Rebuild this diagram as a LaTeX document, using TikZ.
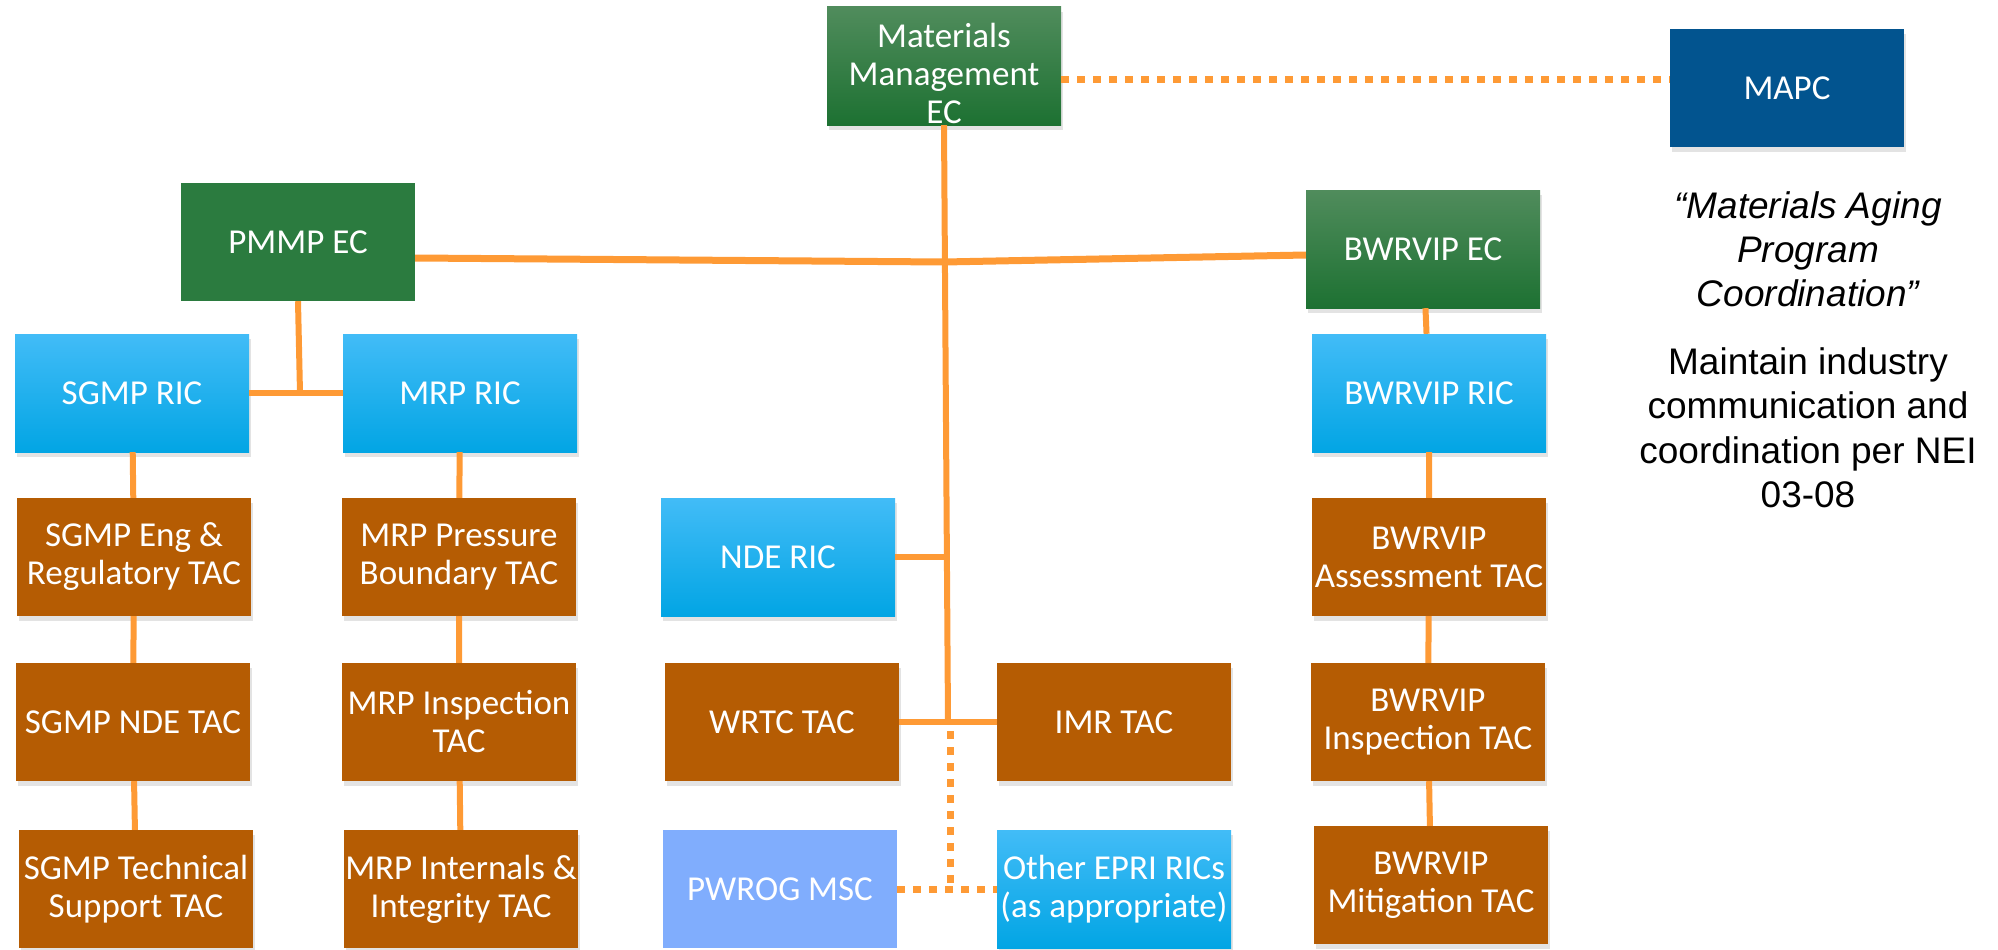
\documentclass[tikz,border=0pt]{standalone}
\usepackage{fontspec}
\setmainfont{Carlito}
\newfontfamily\notefont{Liberation Sans}
\usetikzlibrary{shadows}
\definecolor{ec_top}{RGB}{80,140,92}
\definecolor{ec_bottom}{RGB}{29,113,50}
\definecolor{ec_flat}{RGB}{43,123,63}
\definecolor{ric_top}{RGB}{66,188,247}
\definecolor{ric_mid}{RGB}{4,182,248}
\definecolor{ric_bottom}{RGB}{2,165,228}
\definecolor{tac_fill}{RGB}{181,92,3}
\definecolor{mapc_fill}{RGB}{2,84,143}
\definecolor{msc_fill}{RGB}{128,173,253}
\definecolor{link_orange}{RGB}{254,154,53}
\tikzset{
        boxnode/.style={rectangle, align=center, inner sep=0pt, text=white, minimum width=234pt, minimum height=118pt, font=\fontsize{35}{38}\selectfont},
        % Soft shadow under most boxes
        node_shadow/.style={drop shadow={shadow xshift=2pt, shadow yshift=-5pt, opacity=0.22}},
        % Executive committees
        node_ec/.style={boxnode, node_shadow, top color=ec_top, bottom color=ec_bottom},
        node_ec_flat/.style={boxnode, fill=ec_flat},
        % Research integration committees
        node_ric/.style={boxnode, node_shadow, top color=ric_top, middle color=ric_mid, bottom color=ric_bottom},
        % Technical advisory committees
        node_tac/.style={boxnode, node_shadow, fill=tac_fill},
        % Outside groups
        node_mapc/.style={boxnode, node_shadow, fill=mapc_fill},
        node_msc/.style={boxnode, fill=msc_fill},
        % Connectors
        link_solid/.style={draw=link_orange, line width=6pt},
        link_dotted/.style={draw=link_orange, line width=7pt, dash pattern=on 8pt off 8pt},
        % Notes beside MAPC
        note_quote/.style={align=center, font=\notefont\itshape\fontsize{37}{44}\selectfont},
        note_plain/.style={align=center, font=\notefont\fontsize{37}{44.5}\selectfont}
}

\begin{document}
\begin{tikzpicture}[x=1pt, y=-1pt]
    \useasboundingbox (0,0) rectangle (1998,950);

    % top level
    \node[node_ec] (mm_ec) at (944,66) {\rule{0pt}{40pt}Materials\\Management\\EC};
    \node[node_mapc] (mapc) at (1787,88) {MAPC};
    \node[note_quote] (mapc_quote) at (1808,249) {“Materials Aging\\Program\\Coordination”};
    \node[note_plain] (mapc_role) at (1808,428) {Maintain industry\\communication and\\coordination per NEI\\03-08};

    % PMMP side
    \node[node_ec_flat] (pmmp_ec) at (298,242) {PMMP EC};
    \node[node_ric] (sgmp_ric) at (132,393) {SGMP RIC};
    \node[node_ric] (mrp_ric) at (460,393) {MRP RIC};
    \node[node_tac] (sgmp_eng) at (134,557) {SGMP Eng \&\\Regulatory TAC};
    \node[node_tac] (sgmp_nde) at (133,722) {SGMP NDE TAC};
    \node[node_tac] (sgmp_tech) at (136,889) {SGMP Technical\\Support TAC};
    \node[node_tac] (mrp_pb) at (459,557) {MRP Pressure\\Boundary TAC};
    \node[node_tac] (mrp_insp) at (459,722) {MRP Inspection\\TAC};
    \node[node_tac] (mrp_int) at (461,889) {MRP Internals \&\\Integrity TAC};

    % middle
    \node[node_ric] (nde_ric) at (778,557) {NDE RIC};
    \node[node_tac] (wrtc_tac) at (782,722) {WRTC TAC};
    \node[node_tac] (imr_tac) at (1114,722) {IMR TAC};
    \node[node_msc] (pwrog_msc) at (780,889) {PWROG MSC};
    \node[node_ric] (other_ric) at (1114,889) {Other EPRI RICs\\(as appropriate)};

    % BWRVIP side
    \node[node_ec] (bwrvip_ec) at (1423,249) {BWRVIP EC};
    \node[node_ric] (bwrvip_ric) at (1429,393) {BWRVIP RIC};
    \node[node_tac] (bwrvip_assess) at (1429,557) {BWRVIP\\Assessment TAC};
    \node[node_tac] (bwrvip_insp) at (1428,722) {BWRVIP\\Inspection TAC};
    \node[node_tac] (bwrvip_mit) at (1431,885) {BWRVIP\\Mitigation TAC};

    % junctions on the trunk
    \coordinate (hub_ec) at (944,262);
    \coordinate (hub_nde) at (946,557);
    \coordinate (hub_tac) at (948,722);
    \coordinate (hub_pmmp) at (300,393);
    \coordinate (dot_top) at (950,731);
    \coordinate (dot_bottom) at (950,889);

    % solid links
    \draw[link_solid] (mm_ec.south) -- (hub_tac);
    \draw[link_solid, line width=7pt] ([yshift=-16pt]pmmp_ec.east) -- (hub_ec) -- ([yshift=-6pt]bwrvip_ec.west);
    \draw[link_solid] (pmmp_ec.south) -- (hub_pmmp);
    \draw[link_solid] (sgmp_ric.east) -- (mrp_ric.west);
    \draw[link_solid] (sgmp_ric) -- (sgmp_eng) -- (sgmp_nde) -- (sgmp_tech);
    \draw[link_solid] (mrp_ric) -- (mrp_pb) -- (mrp_insp) -- (mrp_int);
    \draw[link_solid] (nde_ric.east) -- (hub_nde);
    \draw[link_solid] (wrtc_tac.east) -- (imr_tac.west);
    \draw[link_solid] (bwrvip_ec) -- (bwrvip_ric) -- (bwrvip_assess) -- (bwrvip_insp) -- (bwrvip_mit);

    % dotted links
    \draw[link_dotted] ([yshift=-14pt]mm_ec.east) -- ([yshift=8pt]mapc.west);
    \draw[link_dotted] (dot_top) -- (dot_bottom);
    \draw[link_dotted] (pwrog_msc.east) -- (other_ric.west);
\end{tikzpicture}
\end{document}
